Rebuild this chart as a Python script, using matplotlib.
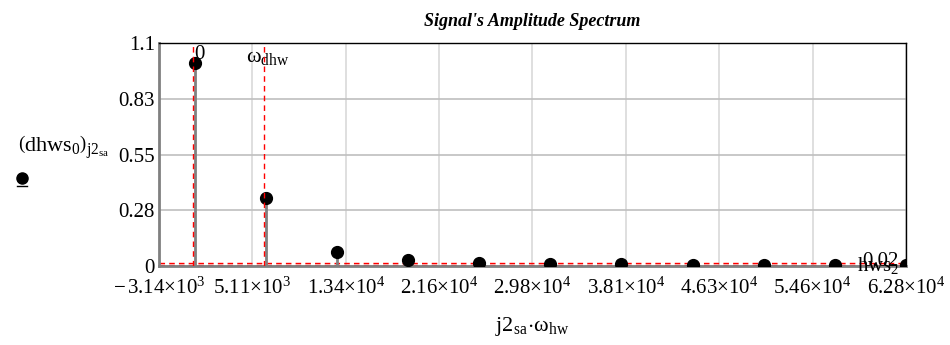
'''Signal amplitude spectrum, Mathcad style'''
import numpy as np
import matplotlib
matplotlib.use('Agg')
import matplotlib.pyplot as plt
import matplotlib.transforms as mtransforms

plt.rcParams['font.family'] = ['Liberation Serif', 'DejaVu Serif']
plt.rcParams['mathtext.fontset'] = 'custom'
plt.rcParams['mathtext.rm'] = 'Liberation Serif'
plt.rcParams['mathtext.it'] = 'Liberation Serif:italic'
plt.rcParams['mathtext.bf'] = 'Liberation Serif:bold'

# harmonic index and amplitudes
harmonics = [0, 1, 2, 3, 4, 5, 6, 7, 8, 9, 10]
amplitudes = [1.0, 0.335, 0.068, 0.03, 0.016, 0.012, 0.009, 0.007, 0.005, 0.004, 0.003]
omega_hw = 2 * np.pi * 1000

x_ticks = [-3141.6, 5105.1, 13351.8, 21598.5, 29845.1, 38091.8, 46338.5, 54585.1, 62831.9]
x_tick_labels = [r'$-\,3.14{\times}10^{3}$', r'$5.11{\times}10^{3}$', r'$1.34{\times}10^{4}$',
                 r'$2.16{\times}10^{4}$', r'$2.98{\times}10^{4}$', r'$3.81{\times}10^{4}$',
                 r'$4.63{\times}10^{4}$', r'$5.46{\times}10^{4}$', r'$6.28{\times}10^{4}$']
y_ticks = [0, 0.275, 0.55, 0.825, 1.1]
y_tick_labels = ['0', '0.28', '0.55', '0.83', '1.1']

v_markers = [0, omega_hw]
h_markers = [0.003, 0.013]

LABEL_SIZE = 15

fig = plt.figure(figsize=(9.5, 3.45), dpi=100)
ax = fig.add_axes([159 / 950, 1 - 266 / 345, (906 - 159) / 950, (266 - 43) / 345])

xs = np.array(harmonics) * omega_hw
ax.vlines(xs, 0, amplitudes, color='#808080', lw=2, zorder=3)
ax.plot(xs, amplitudes, 'o', color='black', ms=8.5, zorder=4)

# markers (vertical ones nudged a pixel left so they show beside the stems)
shift = mtransforms.offset_copy(ax.transData, fig=fig, x=-1.5, y=0, units='dots')
for xm in v_markers:
    ax.plot([xm, xm], [0, 1.1], color='red', ls=(0, (4, 3)), lw=1, zorder=5,
            transform=shift)
for ym in h_markers:
    ax.axhline(ym, color='red', ls=(0, (4, 3)), lw=1, zorder=2)

ax.set_xlim(x_ticks[0], x_ticks[-1])
ax.set_ylim(0, 1.1)
ax.set_xticks(x_ticks, x_tick_labels, fontsize=LABEL_SIZE)
ax.set_yticks(y_ticks, y_tick_labels, fontsize=LABEL_SIZE)
ax.tick_params(axis='x', length=0, pad=8)
ax.tick_params(axis='y', length=0, pad=3)

ax.grid(axis='x', color='#d9d9d9', lw=1.2)
ax.grid(axis='y', color='#bfbfbf', lw=1.2)
ax.set_axisbelow(True)

for side in ('left', 'bottom'):
    ax.spines[side].set_color('#808080')
    ax.spines[side].set_linewidth(2)
for side in ('top', 'right'):
    ax.spines[side].set_color('black')
    ax.spines[side].set_linewidth(1)

# marker labels
ax.text(400, 1.09, '0', fontsize=LABEL_SIZE, ha='center', va='top')
ax.text(omega_hw - 1750, 1.075, r'$\mathrm{\omega}_{\mathrm{dhw}}$', fontsize=LABEL_SIZE + 1,
        ha='left', va='top')
ax.text(62200, 0.02, '0.02', fontsize=LABEL_SIZE, ha='right', va='center')
ax.text(62200, 0.0, r'$\mathrm{hws}_{2}$', fontsize=LABEL_SIZE, ha='right', va='center')

ax.set_title("Signal's Amplitude Spectrum", fontsize=13, fontweight='bold',
             style='italic', pad=12)
ax.set_xlabel(r'$\mathrm{j2}_{\mathrm{sa}}\!\cdot\!\mathrm{\omega}_{\mathrm{hw}}$',
              fontsize=LABEL_SIZE + 1, labelpad=12)

# legend-like y label at left
fig.text(18 / 950, 1 - 152 / 345, r'$\left(\mathrm{dhws}_{0}\right)_{\mathrm{j2}_{\mathrm{sa}}}$',
         fontsize=LABEL_SIZE + 1, ha='left', va='baseline')
fig.lines.append(plt.Line2D([22 / 950], [1 - 178 / 345], marker='o', color='black',
                            ms=8, transform=fig.transFigure))
fig.lines.append(plt.Line2D([17 / 950, 27 / 950], [1 - 186 / 345, 1 - 186 / 345],
                            color='black', lw=1, transform=fig.transFigure))

fig.savefig('out.png', dpi=100)
